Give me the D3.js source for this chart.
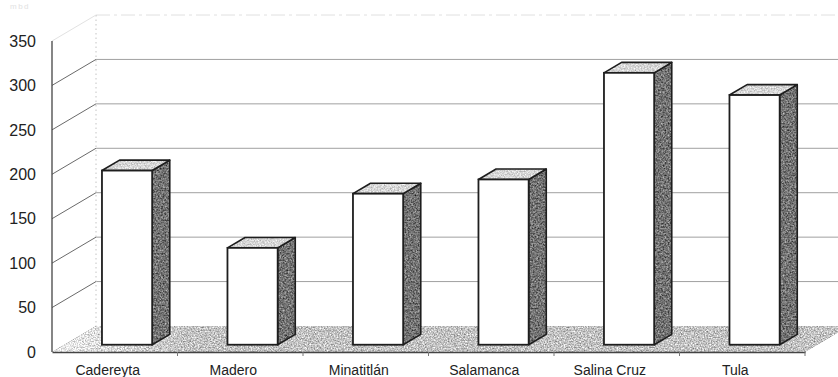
<!DOCTYPE html>
<html>
<head>
<meta charset="utf-8">
<script src="https://cdn.jsdelivr.net/npm/d3@7/dist/d3.min.js"></script>
<style>
  html, body { margin: 0; padding: 0; background: #fff; }
  svg { display: block; }
</style>
</head>
<body>
<svg id="chart" width="838" height="377"></svg>
<script>
// Refinery capacity by site
const categories = ["Cadereyta", "Madero", "Minatitlán", "Salamanca", "Salina Cruz", "Tula"];
const values = [196, 109, 170, 186, 306, 281];
const yTicks = [0, 50, 100, 150, 200, 250, 300, 350];
const unitLabel = "mbd";

const svg = d3.select("#chart");

// Front plane of the 3D box and the depth vector to the back wall
const x = d3.scaleBand().domain(categories).range([52, 805]).paddingInner(0).paddingOuter(0);
const y = d3.scaleLinear().domain([0, 350]).range([352, 41]);
const depth = { dx: 44, dy: -26 };
const barFront = 0.28, barDepth = 0.4;   // fractions of the box depth
const barWidthFrac = 0.4;                 // gap width 150%

const defs = svg.append("defs");

// grainy texture for shaded faces and the floor
function grain(id, amount, freq) {
  const f = defs.append("filter").attr("id", id)
    .attr("filterUnits", "userSpaceOnUse")
    .attr("x", 0).attr("y", 0).attr("width", 838).attr("height", 377)
    .attr("color-interpolation-filters", "sRGB");
  f.append("feTurbulence").attr("type", "fractalNoise")
    .attr("baseFrequency", freq).attr("numOctaves", 3).attr("seed", 7).attr("result", "n");
  f.append("feColorMatrix").attr("in", "n").attr("type", "matrix")
    .attr("values", "1 0 0 0 0  1 0 0 0 0  1 0 0 0 0  0 0 0 0 1").attr("result", "g");
  f.append("feComposite").attr("in", "SourceGraphic").attr("in2", "g")
    .attr("operator", "arithmetic")
    .attr("k1", 0).attr("k2", 1).attr("k3", amount).attr("k4", -amount / 2).attr("result", "m");
  f.append("feComposite").attr("in", "m").attr("in2", "SourceAlpha").attr("operator", "in");
}
grain("grainFloor", 0.8, 0.7);
grain("grainSide", 0.8, 0.6);
grain("grainTop", 0.5, 0.7);

const floorGrad = defs.append("linearGradient").attr("id", "floorGrad")
  .attr("gradientUnits", "userSpaceOnUse").attr("x1", 52).attr("y1", 0).attr("x2", 190).attr("y2", 0);
floorGrad.append("stop").attr("offset", 0).attr("stop-color", "#eeeeee");
floorGrad.append("stop").attr("offset", 1).attr("stop-color", "#c2c2c2");

const line = d3.line();
const P = (px, py, f) => [px + depth.dx * f, py + depth.dy * f];

// Floor
const x0 = x.range()[0], x1 = x.range()[1];
svg.append("path")
  .attr("d", line([P(x0, y(0), 0), P(x1, y(0), 0), P(x1, y(0), 1), P(x0, y(0), 1)]) + "Z")
  .attr("fill", "url(#floorGrad)")
  .attr("filter", "url(#grainFloor)");

// Back wall gridlines
const grid = svg.append("g");
yTicks.filter(t => t > 0).forEach(t => {
  const a = P(x0, y(t), 1), b = P(x1, y(t), 1);
  grid.append("line")
    .attr("x1", a[0]).attr("y1", a[1]).attr("x2", b[0]).attr("y2", b[1])
    .attr("stroke", t === 350 ? "#e0e0e0" : "#a0a0a0")
    .attr("stroke-width", 1)
    .attr("stroke-dasharray", t === 350 ? "14,4,3,4" : null);
});
// back wall left edge
{
  const a = P(x0, y(350), 1), b = P(x0, y(0), 1);
  grid.append("line")
    .attr("x1", a[0]).attr("y1", a[1]).attr("x2", b[0]).attr("y2", b[1])
    .attr("stroke", "#c4c4c4").attr("stroke-width", 1).attr("stroke-dasharray", "1.5,3");
}
// Side wall lines from the value axis to the back wall
yTicks.filter(t => t > 0).forEach(t => {
  const a = P(x0, y(t), 0), b = P(x0, y(t), 1);
  grid.append("line")
    .attr("x1", a[0]).attr("y1", a[1]).attr("x2", b[0]).attr("y2", b[1])
    .attr("stroke", t === 350 ? "#e2e2e2" : "#6a6a6a")
    .attr("stroke-width", 1);
});

// Bars
const bars = svg.append("g");
const bw = x.bandwidth() * barWidthFrac;
const sdx = depth.dx * barDepth, sdy = depth.dy * barDepth;
categories.forEach((c, i) => {
  const v = values[i];
  const left = x(c) + (x.bandwidth() - bw) / 2 + depth.dx * barFront;
  const right = left + bw;
  const top = y(v) + depth.dy * barFront;
  const bottom = y(0) + depth.dy * barFront;
  const g = bars.append("g");
  const side = line([[right, top], [right + sdx, top + sdy], [right + sdx, bottom + sdy], [right, bottom]]) + "Z";
  const lid = line([[left, top], [left + sdx, top + sdy], [right + sdx, top + sdy], [right, top]]) + "Z";
  g.append("path").attr("d", side).attr("fill", "#727272").attr("filter", "url(#grainSide)");
  g.append("path").attr("d", side).attr("fill", "none")
    .attr("stroke", "#1e1e1e").attr("stroke-width", 1.6).attr("stroke-linejoin", "round");
  g.append("path").attr("d", lid).attr("fill", "#d6d6d6").attr("filter", "url(#grainTop)");
  g.append("path").attr("d", lid).attr("fill", "none")
    .attr("stroke", "#1e1e1e").attr("stroke-width", 1.6).attr("stroke-linejoin", "round");
  g.append("rect")
    .attr("x", left).attr("y", top).attr("width", bw).attr("height", bottom - top)
    .attr("fill", "#fff").attr("stroke", "#1e1e1e").attr("stroke-width", 1.8);
});

// Value axis (front left edge)
svg.append("line")
  .attr("x1", x0).attr("y1", y(350)).attr("x2", x0).attr("y2", y(0))
  .attr("stroke", "#444").attr("stroke-width", 1.3);
svg.append("g")
  .selectAll("text").data(yTicks).join("text")
  .attr("x", 36).attr("y", d => y(d)).attr("dy", "0.36em")
  .attr("text-anchor", "end")
  .attr("font-family", "Liberation Sans, Arial, sans-serif")
  .attr("font-size", 16).attr("fill", "#222")
  .text(d => d);

// Category axis (front floor edge)
const gx = svg.append("g").attr("transform", `translate(0,${y(0)})`)
  .call(d3.axisBottom(x).tickSize(0).tickFormat(""));
gx.select(".domain").attr("stroke", "#444").attr("stroke-width", 1.3);
gx.selectAll(".tick").remove();
// ticks on the band boundaries
gx.selectAll(".bt").data(categories).join("line")
  .attr("x1", d => x(d) + x.step()).attr("x2", d => x(d) + x.step())
  .attr("y1", 0).attr("y2", 4).attr("stroke", "#777");
svg.append("g")
  .selectAll("text").data(categories).join("text")
  .attr("x", d => x(d) + x.bandwidth() / 2 - 7).attr("y", 375)
  .attr("text-anchor", "middle")
  .attr("font-family", "Liberation Sans, Arial, sans-serif")
  .attr("font-size", 14).attr("fill", "#222")
  .text(d => d);

// unit label
svg.append("text").attr("x", 10).attr("y", 9)
  .attr("font-family", "Liberation Sans, Arial, sans-serif")
  .attr("font-size", 8).attr("fill", "#e2e2e2").attr("letter-spacing", 1.5)
  .text(unitLabel);
</script>
</body>
</html>
